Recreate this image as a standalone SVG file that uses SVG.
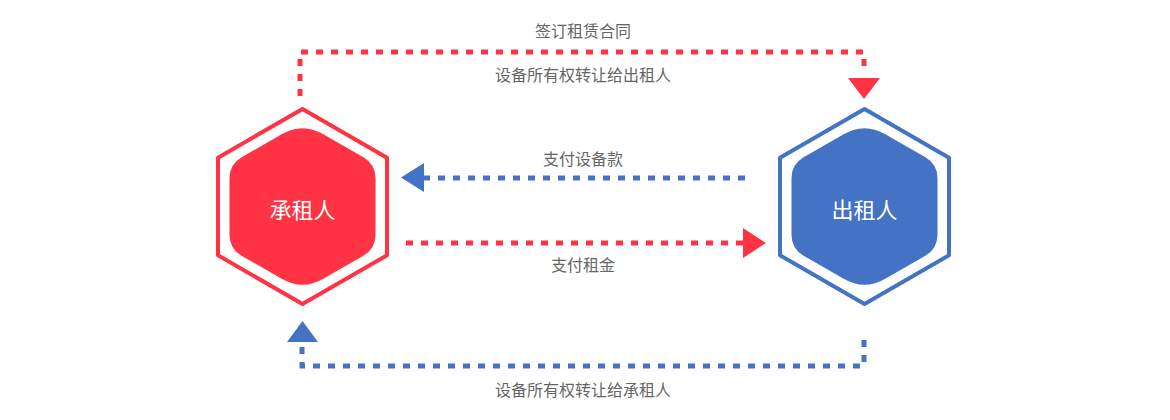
<svg xmlns="http://www.w3.org/2000/svg" width="1170" height="420" viewBox="0 0 1170 420">
<style>
.lbl{font-family:"Noto Sans CJK SC","Noto Sans",sans-serif;font-size:16px;fill:#666;text-anchor:middle}
.nlbl{font-family:"Noto Sans CJK SC","Noto Sans",sans-serif;font-size:22px;fill:#fff;text-anchor:middle;dominant-baseline:central}
.outer{fill:none;stroke-width:4;stroke-linejoin:round}
.red{stroke:#FF3343}
.blue{stroke:#4472C4}
.dash{fill:none;stroke-width:5;stroke-dasharray:7 8}
</style>
<defs>
<path id="inner" d="M -20.8,-72.3 Q 0,-84.3 20.8,-72.3 L 60.9,-49.15 Q 73,-42.15 73,-28.15 L 73,28.15 Q 73,42.15 60.9,49.15 L 20.8,72.3 Q 0,84.3 -20.8,72.3 L -60.9,49.15 Q -73,42.15 -73,28.15 L -73,-28.15 Q -73,-42.15 -60.9,-49.15 Z"/>
<polygon id="outerHex" points="0,-97.6 84.5,-48.8 84.5,48.8 0,97.6 -84.5,48.8 -84.5,-48.8"/>
</defs>
<g id="lessee" transform="translate(302.5,206.5)">
<use href="#outerHex" class="outer red"/>
<use href="#inner" fill="#FF3343"/>
<text class="nlbl" x="0" y="1">承租人</text>
</g>
<g id="lessor" transform="translate(864.5,206.5)">
<use href="#outerHex" class="outer blue"/>
<use href="#inner" fill="#4472C4"/>
<text class="nlbl" x="0" y="1">出租人</text>
</g>
<g id="connectors">
<path class="dash red" d="M 300,96 V 52 H 864 V 72"/>
<polygon points="848,78 880,78 864,99" fill="#FF3343"/>
<path class="dash blue" d="M 745,178 H 424"/>
<polygon points="424,163 424,192 401,177.5" fill="#4472C4"/>
<path class="dash red" d="M 406,243 H 743"/>
<polygon points="743,228 743,258 766,243" fill="#FF3343"/>
<path class="dash blue" d="M 302,347 V 366 H 864 V 333"/>
<polygon points="287,342 318,342 302.5,321" fill="#4472C4"/>
</g>
<g id="labels">
<text class="lbl" x="583" y="37">签订租赁合同</text>
<text class="lbl" x="583" y="81">设备所有权转让给出租人</text>
<text class="lbl" x="583" y="165">支付设备款</text>
<text class="lbl" x="583" y="271">支付租金</text>
<text class="lbl" x="583" y="396">设备所有权转让给承租人</text>
</g>
</svg>
